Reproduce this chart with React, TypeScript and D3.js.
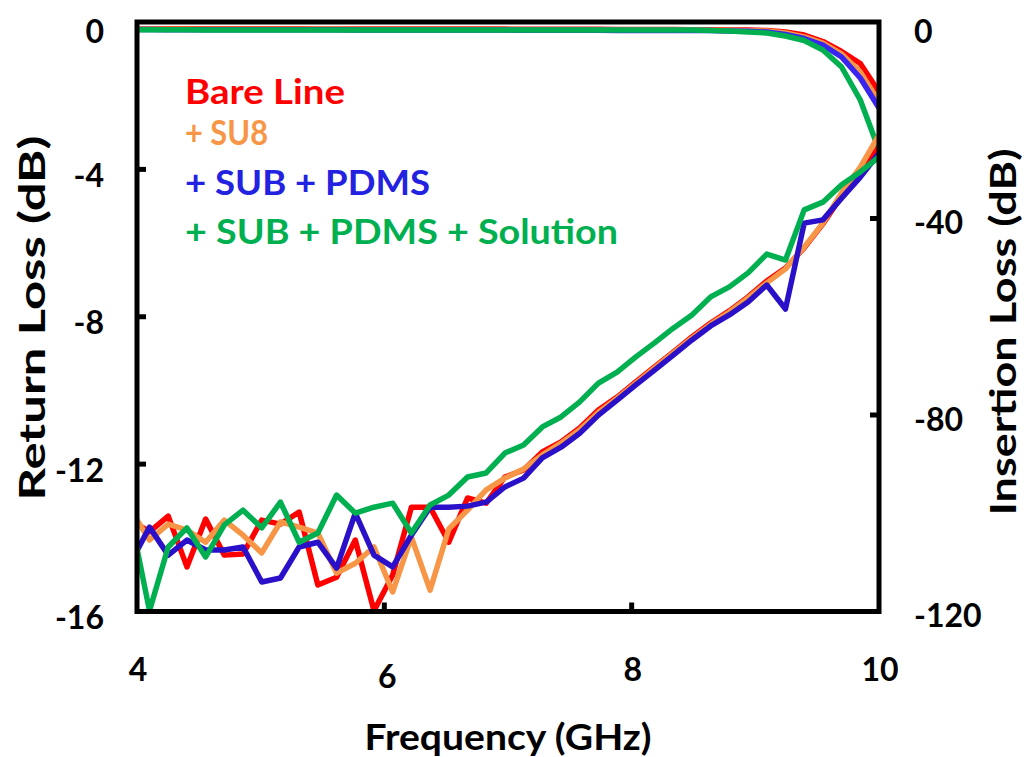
import React from 'react';
import * as d3 from 'd3';

// Frequency grid of the measurement (GHz)
const freqGHz: number[] = d3.range(41).map((i) => 3.95 + i * 0.15125);

const xTicks = [4, 6, 8, 10];
const leftTicks = [0, -4, -8, -12, -16];
const rightTicks = [0, -40, -80, -120];

// Return loss (S11, dB) – left axis
const s11Bare = [-13.52, -13.84, -13.41, -14.79, -13.49, -14.47, -14.44, -13.52, -13.63, -13.3, -15.28, -15.07, -14.06, -15.98, -15.01, -13.17, -13.17, -14.12, -12.92, -13.06, -12.35, -12.16, -11.67, -11.4, -11.02, -10.53, -10.18, -9.77, -9.36, -8.96, -8.55, -8.17, -7.84, -7.46, -7.03, -6.68, -6.13, -5.48, -4.72, -4.07, -3.39];
const s11SU8 = [-13.25, -14.06, -13.63, -13.79, -14.12, -13.52, -13.93, -14.41, -13.57, -13.71, -13.87, -14.96, -14.69, -14.25, -15.47, -13.98, -15.42, -13.76, -13.25, -12.7, -12.38, -12.13, -11.75, -11.43, -11.07, -10.59, -10.21, -9.8, -9.39, -8.98, -8.58, -8.2, -7.87, -7.49, -7.08, -6.7, -6.11, -5.46, -4.64, -3.94, -3.07];
const s11PDMS = [-14.66, -13.71, -14.47, -14.06, -14.33, -14.33, -14.25, -15.2, -15.09, -14.25, -14.12, -14.82, -13.33, -14.47, -14.79, -13.93, -13.17, -13.17, -13.14, -13.03, -12.62, -12.38, -11.83, -11.54, -11.16, -10.67, -10.26, -9.85, -9.45, -9.04, -8.63, -8.25, -7.95, -7.6, -7.14, -7.79, -5.46, -5.37, -4.78, -4.21, -3.56];
const s11Solution = [-13.46, -15.98, -14.25, -13.73, -14.52, -13.65, -13.25, -13.73, -13.03, -14.12, -13.87, -12.84, -13.33, -13.17, -13.06, -13.87, -13.11, -12.84, -12.35, -12.24, -11.7, -11.48, -10.99, -10.72, -10.31, -9.8, -9.5, -9.09, -8.71, -8.31, -7.95, -7.46, -7.19, -6.81, -6.3, -6.46, -5.1, -4.89, -4.42, -4.07, -3.66];

// Insertion loss (S21, dB) – right axis
const s21Bare = [-1.35, -1.35, -1.36, -1.36, -1.37, -1.37, -1.38, -1.38, -1.39, -1.39, -1.4, -1.4, -1.41, -1.41, -1.42, -1.42, -1.43, -1.43, -1.44, -1.44, -1.45, -1.46, -1.47, -1.48, -1.49, -1.5, -1.51, -1.52, -1.53, -1.54, -1.56, -1.58, -1.61, -1.65, -1.73, -2.04, -2.65, -3.97, -6.01, -8.45, -14.25];
const s21SU8 = [-1.45, -1.45, -1.46, -1.46, -1.47, -1.47, -1.48, -1.48, -1.49, -1.49, -1.5, -1.5, -1.51, -1.51, -1.52, -1.52, -1.53, -1.53, -1.54, -1.54, -1.55, -1.56, -1.57, -1.58, -1.59, -1.6, -1.61, -1.62, -1.63, -1.64, -1.65, -1.68, -1.72, -1.78, -1.83, -2.24, -3.05, -4.28, -6.51, -10.18, -16.28];
const s21PDMS = [-1.55, -1.55, -1.56, -1.56, -1.57, -1.57, -1.58, -1.58, -1.59, -1.59, -1.6, -1.6, -1.61, -1.61, -1.62, -1.62, -1.63, -1.63, -1.64, -1.64, -1.65, -1.66, -1.67, -1.68, -1.69, -1.7, -1.71, -1.71, -1.72, -1.72, -1.73, -1.75, -1.83, -1.9, -2.04, -2.54, -3.36, -4.68, -7.12, -11.4, -17.51];
const s21Solution = [-1.6, -1.6, -1.6, -1.6, -1.61, -1.61, -1.61, -1.61, -1.62, -1.62, -1.62, -1.62, -1.62, -1.63, -1.63, -1.63, -1.63, -1.63, -1.63, -1.63, -1.63, -1.63, -1.63, -1.63, -1.63, -1.63, -1.63, -1.63, -1.64, -1.64, -1.65, -1.73, -1.83, -2.04, -2.24, -2.85, -3.77, -5.7, -9.16, -15.88, -26.06];

const legendLabels = ['Bare Line', '+ SU8', '+ SUB + PDMS', '+ SUB + PDMS + Solution'];
const seriesColors = ['#FF0000', '#F79646', '#2A10C8', '#00B050'];
const legendColors = ['#FF0000', '#F79646', '#2222E0', '#00B050'];
const s21Colors = ['#FF0000', '#F79646', '#3A24F0', '#00B050'];

const s11All = [s11Bare, s11SU8, s11PDMS, s11Solution];
const s21All = [s21Bare, s21SU8, s21PDMS, s21Solution];

const W = 1026;
const H = 757;
const plot = { left: 137, right: 879, top: 22, bottom: 611.5 };
const FONT = 'Lato, "Open Sans", sans-serif';

export default function App() {
  const x = d3.scaleLinear().domain([4, 10]).range([plot.left, plot.right]);
  const yL = d3.scaleLinear().domain([-16, 0]).range([plot.bottom, plot.top]);
  const yR = d3.scaleLinear().domain([-120, 0]).range([plot.bottom, plot.top]);

  const lineL = d3
    .line<number>()
    .x((_, i) => x(freqGHz[i]))
    .y((d) => yL(d));
  const lineR = d3
    .line<number>()
    .x((_, i) => x(freqGHz[i]))
    .y((d) => yR(d));

  const legendY = [104, 145, 195, 244];
  const legendW = [160, 83, 245, 433];

  return (
    <svg
      width={W}
      height={H}
      style={{ position: 'absolute', left: 0, top: 0, background: '#fff' }}
      fontFamily={FONT}
    >
      <defs>
        <clipPath id="plotClip">
          <rect x={plot.left} y={plot.top - 3} width={plot.right - plot.left} height={plot.bottom - plot.top + 3} />
        </clipPath>
      </defs>
      <rect x={0} y={0} width={W} height={H} fill="#fff" />

      <g clipPath="url(#plotClip)" fill="none" strokeWidth={5.5} strokeLinejoin="round" strokeLinecap="butt">
        {s21All.map((s, k) => (
          <path key={'s21' + k} d={lineR(s) || ''} stroke={s21Colors[k]} />
        ))}
        {s11All.map((s, k) => (
          <path key={'s11' + k} d={lineL(s) || ''} stroke={seriesColors[k]} />
        ))}
      </g>

      {/* frame */}
      <rect
        x={plot.left}
        y={plot.top}
        width={plot.right - plot.left}
        height={plot.bottom - plot.top}
        fill="none"
        stroke="#000"
        strokeWidth={5}
      />
      {/* inner ticks */}
      {leftTicks.slice(1, -1).map((t) => (
        <line key={'lt' + t} x1={plot.left} x2={plot.left + 9} y1={yL(t)} y2={yL(t)} stroke="#000" strokeWidth={5} />
      ))}
      {rightTicks.slice(1, -1).map((t) => (
        <line key={'rt' + t} x1={plot.right - 9} x2={plot.right} y1={yR(t)} y2={yR(t)} stroke="#000" strokeWidth={5} />
      ))}
      {xTicks.slice(1, -1).map((t) => (
        <line key={'xt' + t} x1={x(t)} x2={x(t)} y1={plot.bottom} y2={plot.bottom - 9} stroke="#000" strokeWidth={5} />
      ))}

      {/* left tick labels */}
      {leftTicks.map((t, i) => (
        <text key={'ll' + t} x={104} y={yL(t) + (i === 0 ? 8 : 5)} textAnchor="end" dominantBaseline="central" fontSize={32} fontWeight="bold" fill="#000">
          {t}
        </text>
      ))}
      {/* right tick labels */}
      {rightTicks.map((t, i) => (
        <text key={'rl' + t} x={914} y={yR(t) + (i === 0 ? 8 : 3)} textAnchor="start" dominantBaseline="central" fontSize={32} fontWeight="bold" fill="#000">
          {t}
        </text>
      ))}
      {/* x tick labels */}
      {xTicks.map((t) => (
        <text key={'xl' + t} x={x(t) + (t === 6 ? 3 : 1)} y={t === 6 ? 675 : 668} textAnchor="middle" dominantBaseline="central" fontSize={32} fontWeight="bold" fill="#000">
          {t}
        </text>
      ))}

      {/* axis titles */}
      <text x={508} y={750} textAnchor="middle" fontSize={37} fontWeight="bold" fill="#000" textLength={287} lengthAdjust="spacingAndGlyphs">
        Frequency (GHz)
      </text>
      <text
        transform={`translate(45, 318) rotate(-90)`}
        textAnchor="middle"
        fontSize={37}
        fontWeight="bold"
        fill="#000"
        textLength={365}
        lengthAdjust="spacingAndGlyphs"
      >
        Return Loss (dB)
      </text>
      <text
        transform={`translate(1016, 332) rotate(-90)`}
        textAnchor="middle"
        fontSize={37}
        fontWeight="bold"
        fill="#000"
        textLength={367}
        lengthAdjust="spacingAndGlyphs"
      >
        Insertion Loss (dB)
      </text>

      {/* legend */}
      {legendLabels.map((lab, k) => (
        <text
          key={lab}
          x={185}
          y={legendY[k]}
          fontSize={35}
          fontWeight="bold"
          fill={legendColors[k]}
          textLength={legendW[k]}
          lengthAdjust="spacingAndGlyphs"
        >
          {lab}
        </text>
      ))}
    </svg>
  );
}
